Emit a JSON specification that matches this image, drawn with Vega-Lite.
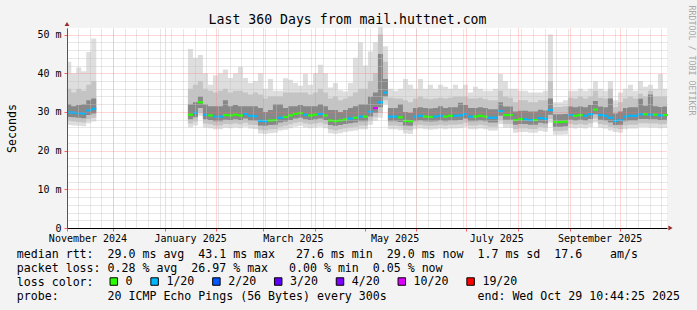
{
"$schema": "https://vega.github.io/schema/vega-lite/v6.json",
"width": 600, "height": 200,
"autosize": {"type": "none"},
"padding": {"left": 67, "top": 28, "right": 30, "bottom": 82},
"background": "#f3f3f3",
"config": {"view": {"fill": "#ffffff", "stroke": null}, "font": "DejaVu Sans Mono"},
"title": {"text": "Last 360 Days from mail.huttnet.com", "font": "DejaVu Sans Mono", "fontSize": 13.2, "fontWeight": "normal", "color": "#000000", "anchor": "middle", "frame": "group", "dx": -19.5, "dy": 36, "offset": 4, "baseline": "alphabetic"},
"data": {"values": [
{"t":"2024-11-03T10:44:00Z","s":1,"a":26.6,"b":27.7,"c":28.7,"m":29.9,"d":32,"e":36,"f":43,"l":"1/20"},
{"t":"2024-11-06","s":1,"a":26.5,"b":27.5,"c":28.6,"m":29.8,"d":31.5,"e":35,"f":40,"l":"1/20"},
{"t":"2024-11-09","s":1,"a":26.4,"b":27.4,"c":28.5,"m":29.7,"d":31.8,"e":36,"f":41.5,"l":"1/20"},
{"t":"2024-11-12","s":1,"a":26.3,"b":27.3,"c":28.4,"m":29.6,"d":32,"e":35.5,"f":40.5,"l":"1/20"},
{"t":"2024-11-15","s":1,"a":27.1,"b":28.1,"c":29.2,"m":30.4,"d":33,"e":37,"f":45.5,"l":"1/20"},
{"t":"2024-11-18","s":1,"a":27.5,"b":28.5,"c":29.6,"m":30.8,"d":33.5,"e":38,"f":49,"l":"1/20"},
{"t":"2024-11-21","s":1,"a":27.5,"b":28.5,"c":29.6,"m":null,"d":33.5,"e":38,"f":49,"l":"1/20"},
{"t":"2025-01-15","s":2,"a":26.0,"b":27.0,"c":28.1,"m":29.3,"d":32,"e":36,"f":46.3,"l":"0"},
{"t":"2025-01-18","s":2,"a":26.5,"b":27.5,"c":28.6,"m":29.8,"d":32.5,"e":37,"f":44,"l":"1/20"},
{"t":"2025-01-21","s":2,"a":29.0,"b":29.8,"c":31.0,"m":32.5,"d":34,"e":38,"f":44.7,"l":"0"},
{"t":"2025-01-24","s":2,"a":26.0,"b":27.0,"c":28.1,"m":29.3,"d":32,"e":36,"f":40,"l":"1/20"},
{"t":"2025-01-27","s":2,"a":25.8,"b":26.8,"c":27.9,"m":29.1,"d":31.5,"e":35.5,"f":37,"l":"0"},
{"t":"2025-01-30","s":2,"a":25.5,"b":26.5,"c":27.6,"m":28.8,"d":31.5,"e":35,"f":39.5,"l":"1/20"},
{"t":"2025-02-02","s":2,"a":25.5,"b":26.5,"c":27.6,"m":28.8,"d":31.5,"e":35.5,"f":40,"l":"1/20"},
{"t":"2025-02-05","s":2,"a":25.9,"b":26.9,"c":28.0,"m":29.2,"d":33,"e":36,"f":41,"l":"0"},
{"t":"2025-02-08","s":2,"a":25.8,"b":26.8,"c":27.9,"m":29.1,"d":31.5,"e":35,"f":38.8,"l":"0"},
{"t":"2025-02-11","s":2,"a":26.0,"b":27.0,"c":28.1,"m":29.3,"d":31.8,"e":35.5,"f":40,"l":"0"},
{"t":"2025-02-14","s":2,"a":25.8,"b":26.8,"c":27.9,"m":29.1,"d":31.5,"e":35.5,"f":41.7,"l":"0"},
{"t":"2025-02-17","s":2,"a":26.2,"b":27.2,"c":28.3,"m":29.5,"d":31.5,"e":35,"f":38.8,"l":"1/20"},
{"t":"2025-02-20","s":2,"a":25.7,"b":26.7,"c":27.8,"m":29.0,"d":31.5,"e":34.5,"f":37.5,"l":"1/20"},
{"t":"2025-02-23","s":2,"a":25.6,"b":26.6,"c":27.7,"m":28.9,"d":31.5,"e":35,"f":38,"l":"1/20"},
{"t":"2025-02-26","s":2,"a":24.4,"b":25.4,"c":26.5,"m":27.7,"d":31,"e":34.5,"f":40,"l":"1/20"},
{"t":"2025-03-01","s":2,"a":24.3,"b":25.3,"c":26.4,"m":27.6,"d":30,"e":33.5,"f":36,"l":"1/20"},
{"t":"2025-03-04","s":2,"a":24.5,"b":25.5,"c":26.6,"m":27.8,"d":30.5,"e":34,"f":38.5,"l":"0"},
{"t":"2025-03-07","s":2,"a":24.6,"b":25.6,"c":26.7,"m":27.9,"d":32,"e":34,"f":35.5,"l":"0"},
{"t":"2025-03-10","s":2,"a":25.2,"b":26.2,"c":27.3,"m":28.5,"d":32,"e":34,"f":35.5,"l":"1/20"},
{"t":"2025-03-13","s":2,"a":25.4,"b":26.4,"c":27.5,"m":28.7,"d":31,"e":35,"f":38.7,"l":"0"},
{"t":"2025-03-16","s":2,"a":25.8,"b":26.8,"c":27.9,"m":29.1,"d":31.5,"e":35,"f":38.3,"l":"0"},
{"t":"2025-03-19","s":2,"a":26.2,"b":27.2,"c":28.3,"m":29.5,"d":31.5,"e":35,"f":37.5,"l":"0"},
{"t":"2025-03-22","s":2,"a":26.4,"b":27.4,"c":28.5,"m":29.7,"d":31.8,"e":35,"f":36.8,"l":"0"},
{"t":"2025-03-25","s":2,"a":26.0,"b":27.0,"c":28.1,"m":29.3,"d":31.5,"e":35,"f":39.9,"l":"1/20"},
{"t":"2025-03-28","s":2,"a":25.8,"b":26.8,"c":27.9,"m":29.1,"d":31.5,"e":34.5,"f":37,"l":"0"},
{"t":"2025-03-31","s":2,"a":26.0,"b":27.0,"c":28.1,"m":29.3,"d":31.5,"e":35,"f":40,"l":"0"},
{"t":"2025-04-03","s":2,"a":26.2,"b":27.2,"c":28.3,"m":29.5,"d":32,"e":36,"f":42.2,"l":"1/20"},
{"t":"2025-04-06","s":2,"a":25.8,"b":26.8,"c":27.9,"m":29.1,"d":31.5,"e":35,"f":40,"l":"0"},
{"t":"2025-04-09","s":2,"a":24.5,"b":25.5,"c":26.6,"m":27.8,"d":30.5,"e":33.5,"f":36.3,"l":"0"},
{"t":"2025-04-12","s":2,"a":24.3,"b":25.3,"c":26.4,"m":27.6,"d":30.5,"e":34,"f":37.5,"l":"0"},
{"t":"2025-04-15","s":2,"a":24.5,"b":25.5,"c":26.6,"m":27.8,"d":30,"e":33,"f":35.6,"l":"0"},
{"t":"2025-04-18","s":2,"a":24.8,"b":25.8,"c":26.9,"m":28.1,"d":30.5,"e":33.5,"f":35.3,"l":"0"},
{"t":"2025-04-21","s":2,"a":25.0,"b":26.0,"c":27.1,"m":28.3,"d":31,"e":34,"f":37.5,"l":"1/20"},
{"t":"2025-04-24","s":2,"a":25.2,"b":26.2,"c":27.3,"m":28.5,"d":31.5,"e":35,"f":44,"l":"0"},
{"t":"2025-04-27","s":2,"a":25.5,"b":26.5,"c":27.6,"m":28.8,"d":32,"e":36,"f":48,"l":"1/20"},
{"t":"2025-04-30","s":2,"a":25.5,"b":26.5,"c":27.6,"m":28.8,"d":32,"e":36,"f":42,"l":"0"},
{"t":"2025-05-03","s":2,"a":26.7,"b":27.7,"c":28.8,"m":30.0,"d":34,"e":38,"f":45.6,"l":"1/20"},
{"t":"2025-05-06","s":2,"a":27.7,"b":28.7,"c":29.8,"m":31.0,"d":35,"e":40,"f":48,"l":"10/20"},
{"t":"2025-05-09","s":2,"a":28.5,"b":29.8,"c":31.2,"m":32.5,"d":45,"e":50,"f":52,"l":"1/20"},
{"t":"2025-05-12","s":2,"a":32.0,"b":33.0,"c":34.0,"m":35.0,"d":38.5,"e":43,"f":47,"l":"1/20"},
{"t":"2025-05-15","s":2,"a":25.5,"b":26.5,"c":27.6,"m":28.8,"d":31,"e":33.7,"f":36,"l":"1/20"},
{"t":"2025-05-18","s":2,"a":25.5,"b":26.5,"c":27.6,"m":28.8,"d":31,"e":33.5,"f":35.5,"l":"1/20"},
{"t":"2025-05-21","s":2,"a":25.3,"b":26.3,"c":27.4,"m":28.6,"d":32,"e":33.5,"f":36,"l":"0"},
{"t":"2025-05-24","s":2,"a":24.4,"b":25.4,"c":26.5,"m":27.7,"d":30,"e":33,"f":38.5,"l":"0"},
{"t":"2025-05-27","s":2,"a":24.3,"b":25.3,"c":26.4,"m":27.6,"d":29.8,"e":32.5,"f":37,"l":"0"},
{"t":"2025-05-30","s":2,"a":25.5,"b":26.5,"c":27.6,"m":28.8,"d":31,"e":33.5,"f":36,"l":"1/20"},
{"t":"2025-06-02","s":2,"a":25.7,"b":26.7,"c":27.8,"m":29.0,"d":31.2,"e":34,"f":38.5,"l":"1/20"},
{"t":"2025-06-05","s":2,"a":25.5,"b":26.5,"c":27.6,"m":28.8,"d":31,"e":33.5,"f":36,"l":"0"},
{"t":"2025-06-08","s":2,"a":25.4,"b":26.4,"c":27.5,"m":28.7,"d":30.9,"e":33.3,"f":37,"l":"0"},
{"t":"2025-06-11","s":2,"a":25.5,"b":26.5,"c":27.6,"m":28.8,"d":31,"e":33.5,"f":36,"l":"1/20"},
{"t":"2025-06-14","s":2,"a":25.7,"b":26.7,"c":27.8,"m":29.0,"d":31.5,"e":33.7,"f":37,"l":"1/20"},
{"t":"2025-06-17","s":2,"a":25.5,"b":26.5,"c":27.6,"m":28.8,"d":31,"e":33.5,"f":36.5,"l":"0"},
{"t":"2025-06-20","s":2,"a":25.7,"b":26.7,"c":27.8,"m":29.0,"d":31.2,"e":33.7,"f":36,"l":"0"},
{"t":"2025-06-23","s":2,"a":25.7,"b":26.7,"c":27.8,"m":29.0,"d":31.2,"e":34,"f":37,"l":"1/20"},
{"t":"2025-06-26","s":2,"a":25.8,"b":26.8,"c":27.9,"m":29.1,"d":32.4,"e":34,"f":36,"l":"1/20"},
{"t":"2025-06-29","s":2,"a":26.2,"b":27.2,"c":28.3,"m":29.5,"d":31.8,"e":34,"f":37,"l":"1/20"},
{"t":"2025-07-02","s":2,"a":25.5,"b":26.5,"c":27.6,"m":28.8,"d":31,"e":33.5,"f":35,"l":"1/20"},
{"t":"2025-07-05","s":2,"a":25.5,"b":26.5,"c":27.6,"m":28.8,"d":31,"e":33.5,"f":36.5,"l":"0"},
{"t":"2025-07-08","s":2,"a":25.7,"b":26.7,"c":27.8,"m":29.0,"d":31.2,"e":33.7,"f":36,"l":"0"},
{"t":"2025-07-11","s":2,"a":25.5,"b":26.5,"c":27.6,"m":28.8,"d":31,"e":33.3,"f":35.5,"l":"0"},
{"t":"2025-07-14","s":2,"a":25.2,"b":26.2,"c":27.3,"m":28.5,"d":30.7,"e":33,"f":35.5,"l":"1/20"},
{"t":"2025-07-17","s":2,"a":25.2,"b":26.2,"c":27.3,"m":28.5,"d":30.7,"e":33,"f":36,"l":"1/20"},
{"t":"2025-07-20","s":2,"a":26.9,"b":27.9,"c":29.0,"m":30.2,"d":32.5,"e":35.5,"f":39.8,"l":"1/20"},
{"t":"2025-07-23","s":2,"a":25.9,"b":26.9,"c":28.0,"m":29.2,"d":31.4,"e":34,"f":38,"l":"0"},
{"t":"2025-07-26","s":2,"a":25.9,"b":26.9,"c":28.0,"m":29.2,"d":31.4,"e":33.7,"f":36,"l":"0"},
{"t":"2025-07-29","s":2,"a":24.6,"b":25.6,"c":26.7,"m":27.9,"d":30.1,"e":32.5,"f":36,"l":"0"},
{"t":"2025-08-01","s":2,"a":24.8,"b":25.8,"c":26.9,"m":28.1,"d":30.3,"e":33,"f":35.5,"l":"0"},
{"t":"2025-08-04","s":2,"a":24.8,"b":25.8,"c":26.9,"m":28.1,"d":30.3,"e":33,"f":35.5,"l":"1/20"},
{"t":"2025-08-07","s":2,"a":24.6,"b":25.6,"c":26.7,"m":27.9,"d":30.1,"e":32.5,"f":35,"l":"1/20"},
{"t":"2025-08-10","s":2,"a":24.6,"b":25.6,"c":26.7,"m":27.9,"d":30.1,"e":32.5,"f":35,"l":"0"},
{"t":"2025-08-13","s":2,"a":25.1,"b":26.1,"c":27.2,"m":28.4,"d":30.6,"e":33,"f":35,"l":"1/20"},
{"t":"2025-08-16","s":2,"a":24.9,"b":25.9,"c":27.0,"m":28.2,"d":30.4,"e":33,"f":35.5,"l":"1/20"},
{"t":"2025-08-19","s":2,"a":27.2,"b":28.2,"c":29.3,"m":30.5,"d":33.5,"e":38,"f":50,"l":"1/20"},
{"t":"2025-08-22","s":2,"a":24.1,"b":25.1,"c":26.2,"m":27.4,"d":29.4,"e":31.3,"f":32.5,"l":"0"},
{"t":"2025-08-25","s":2,"a":24.1,"b":25.1,"c":26.2,"m":27.4,"d":29.4,"e":31.3,"f":32.5,"l":"0"},
{"t":"2025-08-28","s":2,"a":24.2,"b":25.2,"c":26.3,"m":27.5,"d":29.5,"e":31.5,"f":33,"l":"0"},
{"t":"2025-08-31","s":2,"a":25.9,"b":26.9,"c":28.0,"m":29.2,"d":31.4,"e":33.7,"f":35.5,"l":"1/20"},
{"t":"2025-09-03","s":2,"a":25.7,"b":26.7,"c":27.8,"m":29.0,"d":31.2,"e":33.5,"f":35.5,"l":"0"},
{"t":"2025-09-06","s":2,"a":25.9,"b":26.9,"c":28.0,"m":29.2,"d":31.4,"e":34,"f":36,"l":"0"},
{"t":"2025-09-09","s":2,"a":25.7,"b":26.7,"c":27.8,"m":29.0,"d":31.2,"e":33.5,"f":35.5,"l":"1/20"},
{"t":"2025-09-12","s":2,"a":26.1,"b":27.1,"c":28.2,"m":29.4,"d":31.8,"e":34,"f":36,"l":"1/20"},
{"t":"2025-09-15","s":2,"a":27.3,"b":28.3,"c":29.4,"m":30.6,"d":32.8,"e":35.5,"f":38,"l":"0"},
{"t":"2025-09-18","s":2,"a":25.9,"b":26.9,"c":28.0,"m":29.2,"d":31.4,"e":33.7,"f":36,"l":"1/20"},
{"t":"2025-09-21","s":2,"a":25.7,"b":26.7,"c":27.8,"m":29.0,"d":31.2,"e":33.5,"f":35.5,"l":"1/20"},
{"t":"2025-09-24","s":2,"a":25.2,"b":26.2,"c":27.3,"m":28.5,"d":33.5,"e":36,"f":38,"l":"1/20"},
{"t":"2025-09-27","s":2,"a":24.8,"b":25.8,"c":26.6,"m":27.7,"d":29.6,"e":31.3,"f":33,"l":"1/20"},
{"t":"2025-09-30","s":2,"a":24.6,"b":25.6,"c":26.7,"m":27.9,"d":30.1,"e":32.5,"f":35,"l":"1/20"},
{"t":"2025-10-03","s":2,"a":25.5,"b":26.5,"c":27.6,"m":28.8,"d":31,"e":33.5,"f":36,"l":"1/20"},
{"t":"2025-10-06","s":2,"a":25.7,"b":26.7,"c":27.8,"m":29.0,"d":31.2,"e":34,"f":37,"l":"1/20"},
{"t":"2025-10-09","s":2,"a":25.7,"b":26.7,"c":27.8,"m":29.0,"d":31.2,"e":33.5,"f":35.5,"l":"1/20"},
{"t":"2025-10-12","s":2,"a":26.1,"b":27.1,"c":28.2,"m":29.4,"d":33.4,"e":34.7,"f":38,"l":"1/20"},
{"t":"2025-10-15","s":2,"a":26.1,"b":27.1,"c":28.2,"m":29.4,"d":31.6,"e":34,"f":36.5,"l":"0"},
{"t":"2025-10-18","s":2,"a":26.0,"b":27.0,"c":28.1,"m":29.3,"d":34.5,"e":35.5,"f":37,"l":"1/20"},
{"t":"2025-10-21","s":2,"a":26.0,"b":27.0,"c":28.1,"m":29.3,"d":31.5,"e":34,"f":36,"l":"0"},
{"t":"2025-10-24","s":2,"a":25.8,"b":26.8,"c":27.9,"m":29.1,"d":31.3,"e":34,"f":39.8,"l":"1/20"},
{"t":"2025-10-27","s":2,"a":25.9,"b":26.9,"c":28.0,"m":29.2,"d":31.4,"e":34,"f":36,"l":"0"},
{"t":"2025-10-29T10:44:00Z","s":2,"a":25.9,"b":26.9,"c":28.0,"m":null,"d":31.4,"e":34,"f":36,"l":"0"}
]},
"layer": [
{"mark": {"type": "area", "interpolate": "step-after", "color": "#dedede", "opacity": 1},
 "encoding": {
  "x": {"field": "t", "type": "temporal",
   "scale": {"type": "utc", "nice": false, "domain": [{"year":2024,"month":11,"date":3,"hours":10,"minutes":44,"utc":true},{"year":2025,"month":10,"date":29,"hours":10,"minutes":44,"utc":true}]},
   "axis": {"orient": "bottom",
    "values": [{"year":2024,"month":11,"date":3,"hours":10,"minutes":44,"utc":true},{"year":2024,"month":12,"date":1,"utc":true},{"year":2025,"month":1,"date":1,"utc":true},{"year":2025,"month":2,"date":1,"utc":true},{"year":2025,"month":3,"date":1,"utc":true},{"year":2025,"month":4,"date":1,"utc":true},{"year":2025,"month":5,"date":1,"utc":true},{"year":2025,"month":6,"date":1,"utc":true},{"year":2025,"month":7,"date":1,"utc":true},{"year":2025,"month":8,"date":1,"utc":true},{"year":2025,"month":9,"date":1,"utc":true},{"year":2025,"month":10,"date":1,"utc":true}],
    "labelExpr": "utcmonth(datum.value) % 2 == 0 ? utcFormat(datum.value, '%B %Y') : ''",
    "labelOffset": {"condition": [{"test": "datum.value < utc(2024,11,15)", "value": 20.5}, {"test": "datum.value < utc(2025,1,15)", "value": 25.5}], "value": 30},
    "labelAlign": "center", "labelFlush": false, "labelOverlap": false, "labelBound": false,
    "labelFont": "DejaVu Sans Mono", "labelFontSize": 10, "labelColor": "#000000", "labelPadding": 2,
    "tickSize": 3, "tickColor": "#ff6060", "tickWidth": 1,
    "grid": true, "gridColor": "#ff7070", "gridDash": [1, 1], "gridOpacity": 0.55, "gridWidth": 1,
    "domainColor": "#000000", "domainWidth": 1,
    "title": ["median rtt:\u00a0\u00a029.0 ms avg\u00a0\u00a043.1 ms max\u00a0\u00a0\u00a027.6 ms min\u00a0\u00a029.0 ms now\u00a0\u00a01.7 ms sd\u00a0\u00a017.6\u00a0\u00a0\u00a0\u00a0am/s", "packet loss: 0.28 % avg\u00a0\u00a026.97 % max\u00a0\u00a0\u00a00.00 % min\u00a0\u00a00.05 % now", "loss color:", "probe:\u00a0\u00a0\u00a0\u00a0\u00a0\u00a0\u00a020 ICMP Echo Pings (56 Bytes) every 300s\u00a0\u00a0\u00a0\u00a0\u00a0\u00a0\u00a0\u00a0\u00a0\u00a0\u00a0\u00a0\u00a0end: Wed Oct 29 10:44:25 2025"],
    "titleFont": "DejaVu Sans Mono", "titleFontSize": 11.6, "titleFontWeight": "normal", "titleColor": "#000000",
    "titleAnchor": "start", "titleAlign": "left", "titleBaseline": "alphabetic", "titleX": -50.7, "titleY": 29, "titleLineHeight": 14,
    "zindex": 1}},
  "y": {"field": "f", "type": "quantitative",
   "scale": {"domain": [0, 51.7], "nice": false, "zero": true},
   "axis": {"orient": "left", "values": [0, 10, 20, 30, 40, 50],
    "labelExpr": "datum.value == 0 ? '0\u00a0\u00a0' : datum.value + ' m'",
    "labelFont": "DejaVu Sans Mono", "labelFontSize": 10, "labelColor": "#000000", "labelPadding": 3,
    "tickSize": 3, "tickColor": "#ff6060",
    "grid": true, "gridColor": "#ff7070", "gridDash": [1, 1], "gridOpacity": 0.55,
    "domainColor": "#555555",
    "title": "Seconds", "titleFont": "DejaVu Sans Mono", "titleFontSize": 11.6, "titleFontWeight": "normal", "titleColor": "#000000", "titlePadding": 19,
    "zindex": 1}},
  "y2": {"field": "a"},
  "detail": {"field": "s", "type": "nominal"}}},
{"mark": {"type": "area", "interpolate": "step-after", "color": "#c4c4c4", "opacity": 1},
 "encoding": {
  "x": {"field": "t", "type": "temporal",
   "axis": {"orient": "top", "tickCount": {"interval": "week", "step": 1}, "grid": true, "gridColor": "#c4c4c4", "gridDash": [1, 1], "gridOpacity": 0.8, "labels": false, "ticks": false, "domain": false, "title": null, "zindex": 1}},
  "y": {"field": "e", "type": "quantitative",
   "axis": {"orient": "right", "values": [2,4,6,8,12,14,16,18,22,24,26,28,32,34,36,38,42,44,46,48], "grid": true, "gridColor": "#c4c4c4", "gridDash": [1, 1], "gridOpacity": 0.8, "labels": false, "ticks": false, "domain": false,
    "title": "RRDTOOL / TOBI OETIKER", "titleFont": "DejaVu Sans Mono", "titleFontSize": 8.3, "titleFontWeight": "normal", "titleColor": "#a8a8a8", "titleAngle": 90, "titleAlign": "left", "titleBaseline": "middle", "titleX": 23, "titleY": -23, "zindex": 1}},
  "y2": {"field": "b"},
  "detail": {"field": "s", "type": "nominal"}}},
{"mark": {"type": "area", "interpolate": "step-after", "color": "#888888", "opacity": 1},
 "encoding": {
  "x": {"field": "t", "type": "temporal", "axis": null},
  "y": {"field": "d", "type": "quantitative", "axis": null},
  "y2": {"field": "c"},
  "detail": {"field": "s", "type": "nominal"}}},
{"mark": {"type": "tick", "orient": "horizontal", "thickness": 2.2, "size": 5, "xOffset": 2.5, "opacity": 1},
 "encoding": {
  "x": {"field": "t", "type": "temporal", "axis": null},
  "y": {"field": "m", "type": "quantitative", "axis": null},
  "color": {"field": "l", "type": "nominal",
   "scale": {"domain": ["0", "1/20", "2/20", "3/20", "4/20", "10/20", "19/20"], "range": ["#26ff00", "#00b8ff", "#0059ff", "#5e00ff", "#7e00ff", "#dd00ff", "#ff0000"]},
   "legend": {"orient": "none", "legendX": 41, "legendY": 247.5, "direction": "horizontal",
    "title": null,
    "labelFont": "DejaVu Sans Mono", "labelFontSize": 11.6, "labelColor": "#000000", "labelOffset": 6,
    "symbolType": "square", "symbolSize": 56, "symbolStrokeColor": "#000000", "symbolStrokeWidth": 1, "symbolOpacity": 1,
    "columnPadding": 15.8, "padding": 0,
    "encode": {"symbols": {"update": {"fill": {"scale": "color", "field": "value"}, "stroke": {"value": "#000000"}, "strokeWidth": {"value": 1}, "opacity": {"value": 1}}}}}}}},
{"data": {"values": [{}]},
 "mark": {"type": "point", "shape": "triangle-up", "filled": true, "color": "#9e2a2a", "size": 24, "yOffset": -4, "opacity": 1},
 "encoding": {
  "x": {"datum": {"year":2024,"month":11,"date":3,"hours":10,"minutes":44,"utc":true}, "type": "temporal", "axis": null},
  "y": {"datum": 51.7, "type": "quantitative", "axis": null}}},
{"data": {"values": [{}]},
 "mark": {"type": "point", "shape": "triangle-right", "filled": true, "color": "#9e2a2a", "size": 24, "xOffset": 3.5, "opacity": 1},
 "encoding": {
  "x": {"datum": {"year":2025,"month":10,"date":29,"hours":10,"minutes":44,"utc":true}, "type": "temporal", "axis": null},
  "y": {"datum": 0, "type": "quantitative", "axis": null}}}
],
"resolve": {"axis": {"x": "independent", "y": "independent"}}
}
